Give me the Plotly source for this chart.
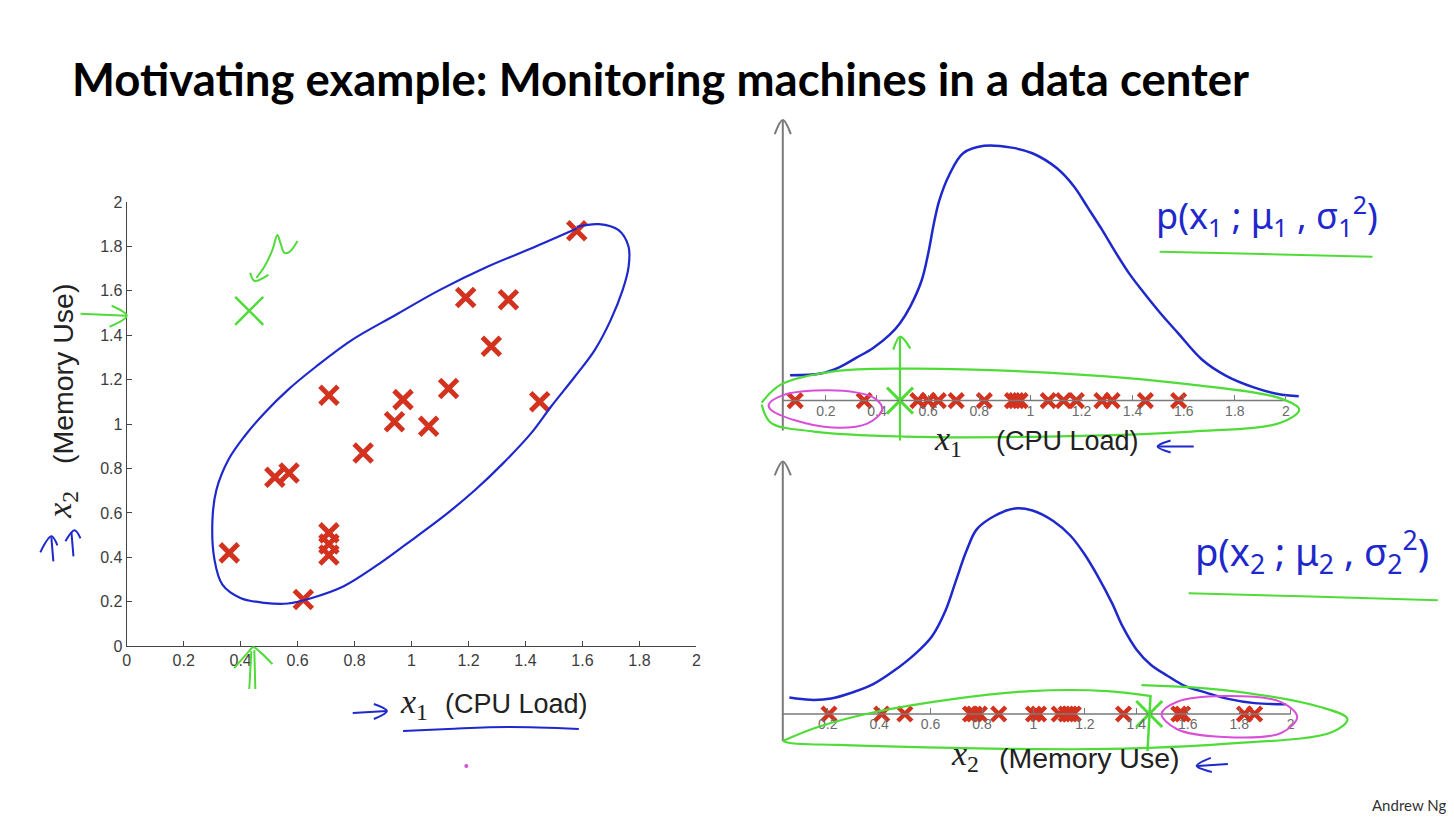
import plotly.graph_objects as go

# reference canvas and the page frame it is photographed in
W, H = 1454, 818
MARGIN = 8                                  # default page margin around the figure
WF, HF = W - MARGIN, H - MARGIN             # figure size that fills the window
# window pixels (incl. margin) -> picture pixels
SX, SY = W / (W + 2 * MARGIN), H / (H + 2 * MARGIN)
X_LO, X_HI = 2 * MARGIN * SX, (WF + 2 * MARGIN) * SX
Y_LO, Y_HI = 2 * MARGIN * SY, (HF + 2 * MARGIN) * SY

# ---------------- data ----------------
# left 2-D scatter
cpu_load = [1.58, 1.19, 1.34, 1.28, 0.71, 0.97, 1.13, 1.45, 0.94, 1.06, 0.83, 0.52, 0.57, 0.71, 0.71, 0.71, 0.36, 0.62]
memory_use = [1.87, 1.57, 1.56, 1.35, 1.13, 1.11, 1.16, 1.10, 1.01, 0.99, 0.87, 0.76, 0.78, 0.51, 0.46, 0.41, 0.42, 0.21]
anomaly_cpu = [0.43]
anomaly_mem = [1.51]
ticks_2d = [0, 0.2, 0.4, 0.6, 0.8, 1, 1.2, 1.4, 1.6, 1.8, 2]
tick_text_2d = ["0", "0.2", "0.4", "0.6", "0.8", "1", "1.2", "1.4", "1.6", "1.8", "2"]

# hand-drawn blue contour around the points (data units)
contour_x = [1.58, 1.657, 1.727, 1.762, 1.762, 1.741, 1.699, 1.643, 1.573, 1.49, 1.42, 1.322, 1.224, 1.112,
             0.986, 0.874, 0.762, 0.65, 0.566, 0.483, 0.399, 0.336, 0.308, 0.301, 0.315, 0.357, 0.413, 0.483,
             0.566, 0.664, 0.79, 0.944, 1.098, 1.266, 1.434, 1.58]
contour_y = [1.888, 1.9, 1.873, 1.798, 1.708, 1.603, 1.468, 1.333, 1.213, 1.079, 0.959, 0.824, 0.704, 0.584,
             0.464, 0.36, 0.27, 0.217, 0.192, 0.195, 0.217, 0.277, 0.39, 0.569, 0.704, 0.839, 0.944, 1.049,
             1.154, 1.258, 1.378, 1.491, 1.603, 1.708, 1.798, 1.88]

# right-top strip: x1 values and density curve
x1_strip = [0.08, 0.35, 0.56, 0.60, 0.64, 0.71, 0.82, 0.93, 0.945, 0.96, 1.07, 1.13, 1.18, 1.28, 1.32, 1.45, 1.58]
x1_anomaly = [0.49]
p1_x = [0.06, 0.18, 0.25, 0.32, 0.385, 0.45, 0.49, 0.53, 0.575, 0.60, 0.622, 0.643, 0.683, 0.737, 0.819, 0.927,
        1.008, 1.103, 1.17, 1.225, 1.279, 1.333, 1.387, 1.441, 1.509, 1.577, 1.671, 1.766, 1.874, 1.969, 2.05]
p1_y = [0.099, 0.106, 0.129, 0.168, 0.206, 0.258, 0.303, 0.368, 0.471, 0.574, 0.69, 0.781, 0.884, 0.968, 0.997,
        0.99, 0.968, 0.91, 0.839, 0.755, 0.671, 0.581, 0.497, 0.426, 0.342, 0.265, 0.161, 0.097, 0.052, 0.026, 0.017]

# right-bottom strip: x2 values and density curve
x2_strip = [0.205, 0.41, 0.50, 0.755, 0.77, 0.79, 0.865, 1.0, 1.02, 1.10, 1.127, 1.14, 1.155, 1.35, 1.565, 1.58, 1.82, 1.86]
x2_anomaly = [1.45]
p2_x = [0.051, 0.132, 0.213, 0.294, 0.375, 0.456, 0.537, 0.605, 0.659, 0.699, 0.74, 0.78, 0.848, 0.928, 0.996,
        1.077, 1.144, 1.198, 1.252, 1.306, 1.347, 1.401, 1.455, 1.522, 1.59, 1.671, 1.752, 1.86, 1.981]
p2_y = [0.08, 0.069, 0.075, 0.104, 0.144, 0.209, 0.289, 0.377, 0.506, 0.65, 0.795, 0.899, 0.963, 1.0, 0.99,
        0.939, 0.867, 0.778, 0.666, 0.538, 0.425, 0.313, 0.241, 0.185, 0.136, 0.104, 0.075, 0.053, 0.048]
strip_ticks = [0.2, 0.4, 0.6, 0.8, 1, 1.2, 1.4, 1.6, 1.8, 2]
strip_tick_text = ["0.2", "0.4", "0.6", "0.8", "1", "1.2", "1.4", "1.6", "1.8", "2"]

# ---------------- geometry (pixel placement of each panel, picture pixels) ----------------
LEFT = dict(x0=130, xs=283.5, y0=647, ys=222.5, xr=[0, 2], yr=[0, 2])
TOP = dict(x0=775, xs=254.4, y0=401, ys=256, xr=[-0.05, 2.1], yr=[0, 1.13])
BOT = dict(x0=776.5, xs=256, y0=715, ys=206, xr=[-0.05, 2.1], yr=[0, 1.25])


def fx(p):
    return (p - X_LO) / (X_HI - X_LO)


def fy(p):
    return 1 - (p - Y_LO) / (Y_HI - Y_LO)


def dom(g):
    xd = [fx(g["x0"] + g["xr"][0] * g["xs"]), fx(g["x0"] + g["xr"][1] * g["xs"])]
    yd = [fy(g["y0"] - g["yr"][0] * g["ys"]), fy(g["y0"] - g["yr"][1] * g["ys"])]
    return xd, yd


def px(g, v):
    return g["x0"] + v * g["xs"]


RED = "#d3321f"
BLUE = "#1e28cc"
GREEN = "#4fdc38"
MAGENTA = "#d84fd8"
GRAY = "#7a7a7a"

fig = go.Figure()

# left scatter
fig.add_trace(go.Scatter(x=cpu_load, y=memory_use, mode="markers", xaxis="x", yaxis="y",
                         marker=dict(symbol="x-thin", size=18, line=dict(width=5, color=RED)),
                         cliponaxis=False, showlegend=False))
fig.add_trace(go.Scatter(x=contour_x, y=contour_y, mode="lines", xaxis="x", yaxis="y",
                         line=dict(color=BLUE, width=2.2, shape="spline"), showlegend=False))
fig.add_trace(go.Scatter(x=anomaly_cpu, y=anomaly_mem, mode="markers", xaxis="x", yaxis="y",
                         marker=dict(symbol="x-thin", size=28, line=dict(width=2.5, color=GREEN)),
                         cliponaxis=False, showlegend=False))

# top strip
fig.add_trace(go.Scatter(x=p1_x, y=p1_y, mode="lines", xaxis="x2", yaxis="y2",
                         line=dict(color=BLUE, width=2.5, shape="spline"), showlegend=False))
fig.add_trace(go.Scatter(x=x1_strip, y=[0] * len(x1_strip), mode="markers", xaxis="x2", yaxis="y2",
                         marker=dict(symbol="x-thin", size=14, line=dict(width=4.5, color=RED)),
                         cliponaxis=False, showlegend=False))
fig.add_trace(go.Scatter(x=x1_anomaly, y=[0], mode="markers", xaxis="x2", yaxis="y2",
                         marker=dict(symbol="x-thin", size=26, line=dict(width=3, color=GREEN)),
                         cliponaxis=False, showlegend=False))

# bottom strip
fig.add_trace(go.Scatter(x=p2_x, y=p2_y, mode="lines", xaxis="x3", yaxis="y3",
                         line=dict(color=BLUE, width=2.5, shape="spline"), showlegend=False))
fig.add_trace(go.Scatter(x=x2_strip, y=[0] * len(x2_strip), mode="markers", xaxis="x3", yaxis="y3",
                         marker=dict(symbol="x-thin", size=14, line=dict(width=4.5, color=RED)),
                         cliponaxis=False, showlegend=False))
fig.add_trace(go.Scatter(x=x2_anomaly, y=[0], mode="markers", xaxis="x3", yaxis="y3",
                         marker=dict(symbol="x-thin", size=26, line=dict(width=3, color=GREEN)),
                         cliponaxis=False, showlegend=False))

# ---------------- overlay (picture pixels) : axis arrows and hand-drawn ink ----------------
ax_x = 783
strokes = [
    # right-panel axis lines + arrow heads
    (GRAY, 2, [ax_x, ax_x], [431, 121]),
    (GRAY, 2, [ax_x - 8, ax_x, ax_x + 8], [134, 120, 134]),
    (GRAY, 1.5, [ax_x, px(TOP, 2.0)], [TOP["y0"], TOP["y0"]]),
    (GRAY, 2, [ax_x, ax_x], [742, 463]),
    (GRAY, 2, [ax_x - 8, ax_x, ax_x + 8], [476, 462, 476]),
    (GRAY, 1.5, [ax_x, px(BOT, 2.0)], [BOT["y0"], BOT["y0"]]),
    # top green loop, magenta loop, anomaly pointer
    (GREEN, 2.2, [762, 781, 832, 905, 1046, 1190, 1279, 1297, 1279, 1190, 1046, 903, 814, 771, 762],
     [403, 385, 372, 369, 373, 385, 399, 410, 423, 432, 437, 437, 432, 423, 405]),
    (MAGENTA, 2, [769, 782, 814, 857, 875, 882, 867, 832, 796, 771, 769],
     [405, 396, 391, 393, 399, 410, 424, 428, 421, 410, 405]),
    (GREEN, 2.2, [px(TOP, 0.49), px(TOP, 0.49)], [441, 337]),
    (GREEN, 2.2, [893, px(TOP, 0.49), 910], [350, 337, 349]),
    # bottom green loop, magenta loop, anomaly pointer
    (GREEN, 2.2, [783, 818, 875, 952, 1029, 1106, 1150], [742, 728, 713, 700, 692, 692, 697]),
    (GREEN, 2.2, [1140, 1222, 1318, 1345, 1330, 1222, 1106, 952, 837, 790, 783],
     [686, 691, 708, 720, 733, 745, 750, 749, 746, 744, 742]),
    (MAGENTA, 2, [1160, 1175, 1222, 1279, 1295, 1279, 1222, 1175, 1160],
     [715, 703, 697, 703, 718, 734, 738, 730, 715]),
    (GREEN, 2.5, [1149, 1146], [697, 752]),
    # underlines of the handwritten densities
    (GREEN, 2, [1158, 1250, 1370], [252, 254, 257]),
    (GREEN, 2, [1187, 1300, 1435], [594, 597, 601]),
    # blue arrows by the strip titles
    (BLUE, 2, [1192, 1157], [447, 447]),
    (BLUE, 2, [1169, 1156, 1169], [441, 447, 453]),
    (BLUE, 2, [1226, 1196], [765, 767]),
    (BLUE, 2, [1209, 1195, 1210], [759, 767, 773]),
    # left panel ink
    (BLUE, 2, [355, 389], [714, 712]),
    (BLUE, 2, [376, 389, 376], [705, 712, 720]),
    (BLUE, 2, [405, 450, 510, 580], [732, 730, 728, 730]),
    (BLUE, 2, [57, 55], [562, 538]),
    (BLUE, 2, [44, 55, 61], [553, 537, 546]),
    (BLUE, 2, [77, 75], [557, 533]),
    (BLUE, 2, [69, 78, 84], [542, 531, 539]),
    (GREEN, 2, [84, 130], [314, 316]),
    (GREEN, 2, [115, 130, 113], [306, 316, 327]),
    (GREEN, 2, [252, 254], [690, 652]),
    (GREEN, 2, [258, 257], [690, 651]),
    (GREEN, 2, [237, 251, 256, 264, 275], [669, 653, 648, 654, 665]),
    (GREEN, 2, [300, 292, 287, 283, 280, 275, 267, 259], [241, 252, 253, 243, 235, 250, 267, 278]),
    (GREEN, 2, [253, 257, 271], [273, 281, 275]),
]
for col, wd, xs, ys in strokes:
    fig.add_trace(go.Scatter(x=xs, y=ys, mode="lines", xaxis="x4", yaxis="y4",
                             line=dict(color=col, width=wd, shape="spline"), showlegend=False,
                             hoverinfo="skip"))
fig.add_trace(go.Scatter(x=[468], y=[767], mode="markers", xaxis="x4", yaxis="y4",
                         marker=dict(color=MAGENTA, size=4), showlegend=False, hoverinfo="skip"))

# ---------------- axes ----------------
lx, ly = dom(LEFT)
tx, ty = dom(TOP)
bx, by = dom(BOT)
tickfont_l = dict(family="Liberation Sans, Arial", size=16, color="#3c3c3c")
tickfont_r = dict(family="Liberation Sans, Arial", size=14, color="#6a6a6a")

common_left = dict(range=[0, 2], tickvals=ticks_2d, ticktext=tick_text_2d, ticks="inside", ticklen=5,
                   tickcolor="#444", showline=True, linecolor="#444", linewidth=1.2, showgrid=False,
                   zeroline=False, tickfont=tickfont_l, fixedrange=True)
strip_axis = dict(tickvals=strip_ticks, ticktext=strip_tick_text, ticks="inside", ticklen=6,
                  tickcolor=GRAY, showline=False, showgrid=False, zeroline=False, tickfont=tickfont_r,
                  ticklabelstandoff=0)

fig.update_layout(
    width=WF, height=HF, autosize=False,
    margin=dict(l=0, r=0, t=0, b=0),
    paper_bgcolor="white", plot_bgcolor="rgba(0,0,0,0)",
    xaxis=dict(domain=lx, anchor="y", **common_left),
    yaxis=dict(domain=ly, anchor="x", **common_left),
    xaxis2=dict(domain=tx, anchor="y2", range=TOP["xr"], **strip_axis),
    yaxis2=dict(domain=ty, anchor="x2", range=TOP["yr"], visible=False),
    xaxis3=dict(domain=bx, anchor="y3", range=BOT["xr"], **strip_axis),
    yaxis3=dict(domain=by, anchor="x3", range=BOT["yr"], visible=False),
    xaxis4=dict(domain=[0, 1], anchor="y4", range=[X_LO, X_HI], visible=False, fixedrange=True),
    yaxis4=dict(domain=[0, 1], anchor="x4", range=[Y_HI, Y_LO], visible=False, fixedrange=True),
)


# ---------------- text ----------------
def note(x, y, text, size, color="#111", family="Liberation Sans, Arial", xanchor="center",
         angle=0, weight=None):
    f = dict(family=family, size=size, color=color)
    if weight:
        f["weight"] = weight
    fig.add_annotation(x=x, y=y, xref="x4", yref="y4", text=text, showarrow=False, font=f,
                       xanchor=xanchor, yanchor="middle", textangle=angle)


note(74, 78, "Motivating example: Monitoring machines in a data center", 45.5, "#000",
     family="Lato, Open Sans, sans-serif", xanchor="left", weight=700)
note(1445, 806, "Andrew Ng", 15, "#333", family="Lato, sans-serif", xanchor="right")

serif = "Liberation Serif, DejaVu Serif, serif"
# left titles
note(416, 705, "<i>x</i><sub>1</sub>", 34, "#222", family=serif)
note(518, 705, "(CPU Load)", 27, "#222")
note(66, 374, "(Memory Use)", 28.5, "#222", angle=-90)
note(66, 505, "<i>x</i><sub>2</sub>", 34, "#222", angle=-90, family=serif)
# strip titles
note(947, 441, "<i>x</i><sub>1</sub>", 34, "#222", family=serif)
note(1066, 441, "(CPU Load)", 27, "#222")
note(964, 757, "<i>x</i><sub>2</sub>", 34, "#222", family=serif)
note(1088, 759, "(Memory Use)", 28.5, "#222")
# handwritten densities
note(1265, 216, "p(x<sub>1</sub> ; μ<sub>1</sub> , σ<sub>1</sub><sup>2</sup>)", 36, BLUE,
     family="Noto Sans, sans-serif")
note(1310, 553, "p(x<sub>2</sub> ; μ<sub>2</sub> , σ<sub>2</sub><sup>2</sup>)", 38, BLUE,
     family="Noto Sans, sans-serif")

fig.write_html("out.html", config={"displayModeBar": False})
